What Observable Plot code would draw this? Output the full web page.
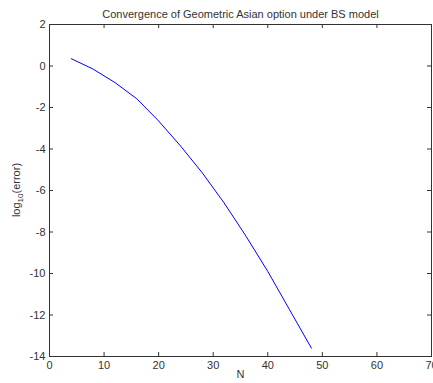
<!DOCTYPE html>
<html>
<head>
<meta charset="utf-8">
<script src="https://cdn.jsdelivr.net/npm/d3@7"></script>
<script src="https://cdn.jsdelivr.net/npm/@observablehq/plot@0.6"></script>
<style>
  html, body { margin: 0; padding: 0; background: #fff; }
  #chart { width: 433px; height: 383px; }
</style>
</head>
<body>
<div id="chart"></div>
<script>
const titleText = "Convergence of Geometric Asian option under BS model";
const xLabel = "N";
const N = [4, 8, 12, 16, 20, 24, 28, 32, 36, 40, 44, 48];
const logErr = [0.35, -0.15, -0.8, -1.58, -2.65, -3.85, -5.15, -6.6, -8.2, -9.9, -11.75, -13.6];
const xTicks = [0, 10, 20, 30, 40, 50, 60, 70];
const yTicks = [-14, -12, -10, -8, -6, -4, -2, 0, 2];

const data = N.map((n, i) => ({N: n, e: logErr[i]}));
const fmt = d => String(d);
const ink = "#333";

const W = 433, H = 383, mL = 49, mR = 2, mT = 24, mB = 27;
const fw = W - mL - mR, fh = H - mT - mB, tk = 4;

const chart = Plot.plot({
  width: W,
  height: H,
  marginLeft: mL,
  marginRight: mR,
  marginTop: mT,
  marginBottom: mB,
  style: {fontFamily: "'Liberation Sans', Arial, sans-serif", fontSize: "11px", color: ink, background: "#fff"},
  x: {domain: [0, 70]},
  y: {domain: [-14, 2]},
  marks: [
    Plot.frame({stroke: ink}),
    Plot.axisX(xTicks, {anchor: "bottom", tickSize: 0, tickPadding: 5, tickFormat: fmt, label: null, fill: ink}),
    Plot.axisY(yTicks, {anchor: "left", tickSize: 0, tickPadding: 4, tickFormat: fmt, label: null, fill: ink}),
    // inward ticks on all four sides
    Plot.tickX(xTicks, {x: d => d, insetTop: fh - tk, stroke: ink}),
    Plot.tickX(xTicks, {x: d => d, insetBottom: fh - tk, stroke: ink}),
    Plot.tickY(yTicks, {y: d => d, insetRight: fw - tk, stroke: ink}),
    Plot.tickY(yTicks, {y: d => d, insetLeft: fw - tk, stroke: ink}),
    Plot.line(data, {x: "N", y: "e", stroke: "#0000ff", strokeWidth: 1}),
    Plot.text([titleText], {frameAnchor: "top", dy: -14, fontSize: 11, fill: ink}),
    Plot.text([xLabel], {frameAnchor: "bottom", dy: 21, fontSize: 11, fill: ink})
  ]
});
document.getElementById("chart").appendChild(chart);

// y-axis label with subscript
const svg = d3.select(chart);
const yl = svg.append("text")
  .attr("transform", "translate(20,190) rotate(-90)")
  .attr("text-anchor", "middle")
  .attr("fill", ink)
  .attr("font-size", 11)
  .attr("font-family", "'Liberation Sans', Arial, sans-serif");
yl.append("tspan").text("log");
yl.append("tspan").attr("font-size", 8).attr("dy", 3).text("10");
yl.append("tspan").attr("dy", -3).text("(error)");
</script>
</body>
</html>
